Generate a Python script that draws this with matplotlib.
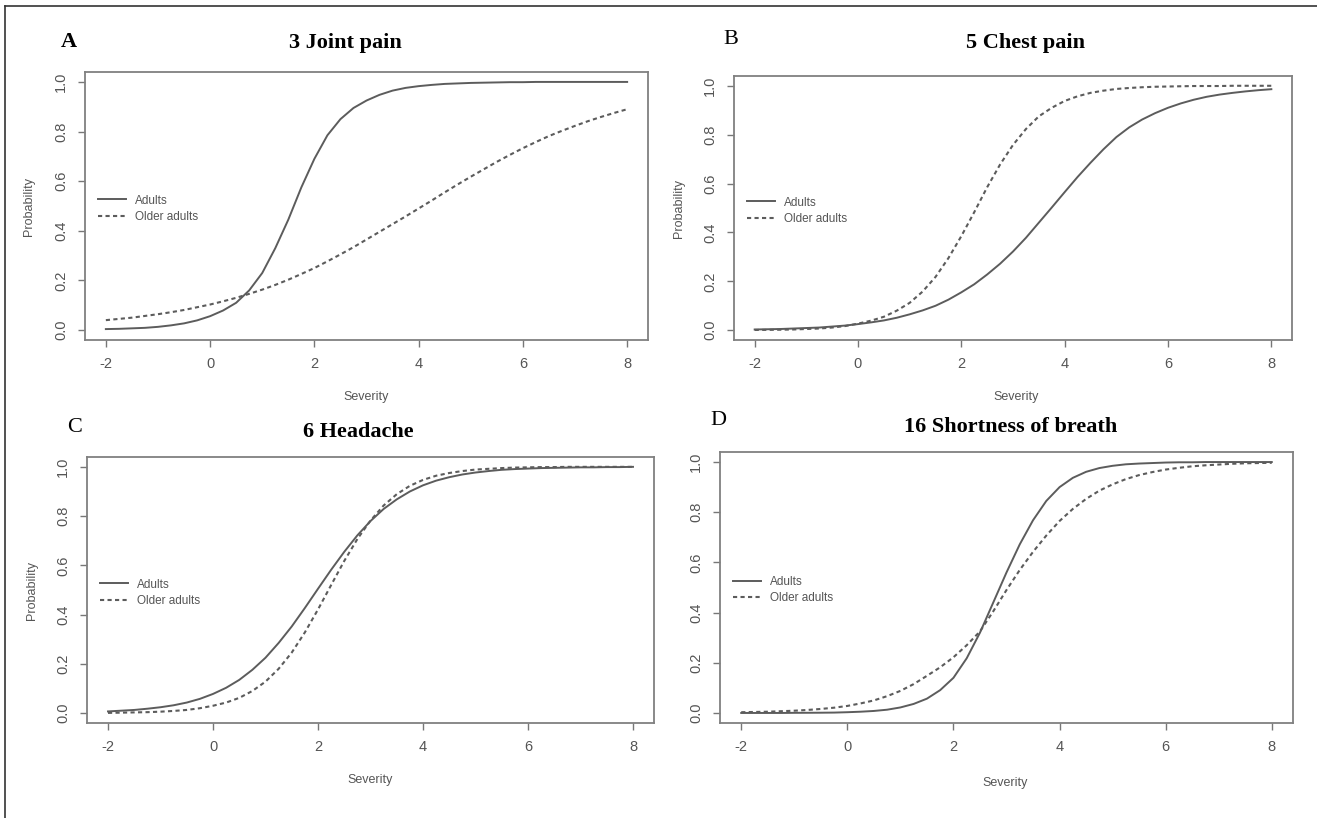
import matplotlib.pyplot as plt
from matplotlib.lines import Line2D

plt.rcParams['font.family'] = ['Liberation Sans', 'DejaVu Sans']
plt.rcParams['axes.unicode_minus'] = False

# severity grid the curves were read at (quarter steps, -2 .. 8)
severity = [-2, -1.75, -1.5, -1.25, -1, -0.75, -0.5, -0.25,
            0, 0.25, 0.5, 0.75, 1, 1.25, 1.5, 1.75,
            2, 2.25, 2.5, 2.75, 3, 3.25, 3.5, 3.75,
            4, 4.25, 4.5, 4.75, 5, 5.25, 5.5, 5.75,
            6, 6.25, 6.5, 6.75, 7, 7.25, 7.5, 7.75, 8]

# A - 3 Joint pain
joint_adults = [0.004, 0.005, 0.007, 0.009, 0.013, 0.019, 0.027, 0.039,
                0.056, 0.079, 0.11, 0.16, 0.23, 0.33, 0.445, 0.575,
                0.69, 0.785, 0.85, 0.895, 0.925, 0.948, 0.965, 0.976,
                0.983, 0.988, 0.992, 0.994, 0.996, 0.997, 0.998, 0.999,
                0.999, 1.0, 1.0, 1.0, 1.0, 1.0, 1.0, 1.0, 1.0]
joint_older = [0.04, 0.045, 0.05, 0.057, 0.064, 0.072, 0.081, 0.092,
               0.103, 0.116, 0.13, 0.146, 0.163, 0.182, 0.203, 0.226,
               0.25, 0.277, 0.305, 0.334, 0.365, 0.396, 0.427, 0.458,
               0.49, 0.522, 0.555, 0.587, 0.618, 0.648, 0.678, 0.706,
               0.733, 0.758, 0.782, 0.803, 0.823, 0.842, 0.859, 0.875, 0.89]

# B - 5 Chest pain
chest_adults = [0.003, 0.004, 0.005, 0.007, 0.009, 0.011, 0.015, 0.019,
                0.025, 0.032, 0.04, 0.051, 0.065, 0.081, 0.1, 0.125,
                0.155, 0.188, 0.228, 0.272, 0.322, 0.378, 0.44, 0.502,
                0.565, 0.627, 0.685, 0.74, 0.79, 0.83, 0.862, 0.888,
                0.91, 0.928, 0.943, 0.955, 0.964, 0.971, 0.977, 0.982, 0.986]
chest_older = [0.001, 0.0015, 0.002, 0.003, 0.005, 0.007, 0.011, 0.017,
               0.027, 0.039, 0.055, 0.08, 0.112, 0.158, 0.218, 0.295,
               0.385, 0.483, 0.585, 0.678, 0.758, 0.823, 0.875, 0.91,
               0.938, 0.957, 0.971, 0.98, 0.987, 0.991, 0.994, 0.996,
               0.997, 0.998, 0.999, 0.999, 0.999, 1.0, 1.0, 1.0, 1.0]

# C - 6 Headache
head_adults = [0.007, 0.01, 0.013, 0.018, 0.024, 0.032, 0.043, 0.058,
               0.078, 0.103, 0.135, 0.176, 0.225, 0.285, 0.352, 0.427,
               0.505, 0.582, 0.655, 0.722, 0.78, 0.829, 0.868, 0.9,
               0.925, 0.944, 0.958, 0.969, 0.977, 0.983, 0.988, 0.991,
               0.993, 0.995, 0.996, 0.997, 0.998, 0.998, 0.999, 0.999, 1.0]
head_older = [0.001, 0.002, 0.003, 0.004, 0.006, 0.009, 0.013, 0.02,
              0.03, 0.043, 0.062, 0.09, 0.128, 0.18, 0.246, 0.328,
              0.421, 0.52, 0.618, 0.707, 0.782, 0.843, 0.889, 0.923,
              0.947, 0.964, 0.975, 0.983, 0.989, 0.992, 0.995, 0.997,
              0.998, 0.999, 0.999, 1.0, 1.0, 1.0, 1.0, 1.0, 1.0]

# D - 16 Shortness of breath
breath_adults = [0.0, 0.0, 0.0, 0.0, 0.0005, 0.0007, 0.001, 0.0015,
                 0.003, 0.005, 0.008, 0.013, 0.022, 0.036, 0.057, 0.091,
                 0.14, 0.218, 0.32, 0.44, 0.56, 0.672, 0.768, 0.845,
                 0.9, 0.937, 0.961, 0.976, 0.985, 0.991, 0.994, 0.996,
                 0.998, 0.999, 0.999, 1.0, 1.0, 1.0, 1.0, 1.0, 1.0]
breath_older = [0.003, 0.004, 0.005, 0.007, 0.009, 0.012, 0.016, 0.021,
                0.028, 0.038, 0.05, 0.067, 0.088, 0.115, 0.148, 0.182,
                0.222, 0.27, 0.325, 0.405, 0.49, 0.57, 0.642, 0.707,
                0.765, 0.813, 0.853, 0.886, 0.911, 0.932, 0.948, 0.96,
                0.97, 0.977, 0.983, 0.987, 0.99, 0.993, 0.995, 0.996, 0.997]

titles = ['3 Joint pain', '5 Chest pain', '6 Headache', '16 Shortness of breath']
letters = ['A', 'B', 'C', 'D']
adults = [joint_adults, chest_adults, head_adults, breath_adults]
older = [joint_older, chest_older, head_older, breath_older]

W, H = 1317, 818
fig = plt.figure(figsize=(W / 100, H / 100), dpi=100)

def fx(px):
    return px / W

def fy(py):
    return 1 - py / H

# axes boxes in pixels: left, top, right, bottom
boxes = [(85, 72, 648, 340), (734, 76, 1292, 340),
         (87, 457, 654, 723), (720, 452, 1293, 723)]
title_pos = [(345, 43), (1025, 43), (358, 432), (1011, 427)]
letter_pos = [(69, 42), (731, 39), (75, 428), (718, 421)]
xlabel_pos = [(366, 397), (1016, 397), (370, 780), (1005, 783)]
ylabel_x = [29, 679, 32, None]

line_col = '#5c5c5c'
text_col = '#555555'

for i in range(4):
    l, t, r, b = boxes[i]
    ax = fig.add_axes([fx(l), fy(b), fx(r - l), (b - t) / H])
    ax.plot(severity, adults[i], color=line_col, lw=1.4, label='Adults')
    ax.plot(severity, older[i], color=line_col, lw=1.5, linestyle=(0, (2, 1.6)),
            label='Older adults')
    ax.set_xlim(-2.4, 8.4)
    ax.set_ylim(-0.04, 1.04)
    ax.set_xticks([-2, 0, 2, 4, 6, 8])
    ax.set_yticks([0.0, 0.2, 0.4, 0.6, 0.8, 1.0])
    ax.set_yticklabels(['0.0', '0.2', '0.4', '0.6', '0.8', '1.0'], rotation=90, va='center')
    ax.tick_params(colors='#777777', labelcolor=text_col, labelsize=10.5, length=5,
                   width=1, pad=7)
    for s in ax.spines.values():
        s.set_color('#808080')
        s.set_linewidth(1.3)
    ax.legend(frameon=False, loc='center left', bbox_to_anchor=(0.005, 0.49),
              fontsize=8.5, handlelength=2.3, handletextpad=0.8, labelspacing=0.35,
              labelcolor=text_col)

    fig.text(fx(title_pos[i][0]), fy(title_pos[i][1]), titles[i], ha='center', va='center',
             fontsize=16, fontweight='bold', family='Liberation Serif')
    fig.text(fx(letter_pos[i][0]), fy(letter_pos[i][1]), letters[i], ha='center', va='center',
             fontsize=16, fontweight='bold' if i == 0 else 'normal', family='Liberation Serif')
    fig.text(fx(xlabel_pos[i][0]), fy(xlabel_pos[i][1]), 'Severity', ha='center', va='center',
             fontsize=9, color=text_col)
    if ylabel_x[i] is not None:
        fig.text(fx(ylabel_x[i]), fy((t + b) / 2), 'Probability', ha='center', va='center',
                 rotation=90, fontsize=9, color=text_col)

# outer frame (top and left edges visible)
fig.add_artist(Line2D([fx(5), fx(5)], [fy(6), 0], color='#333333', lw=1.2))
fig.add_artist(Line2D([fx(5), 1], [fy(6), fy(6)], color='#333333', lw=1.2))

plt.savefig('out.png', dpi=100)
